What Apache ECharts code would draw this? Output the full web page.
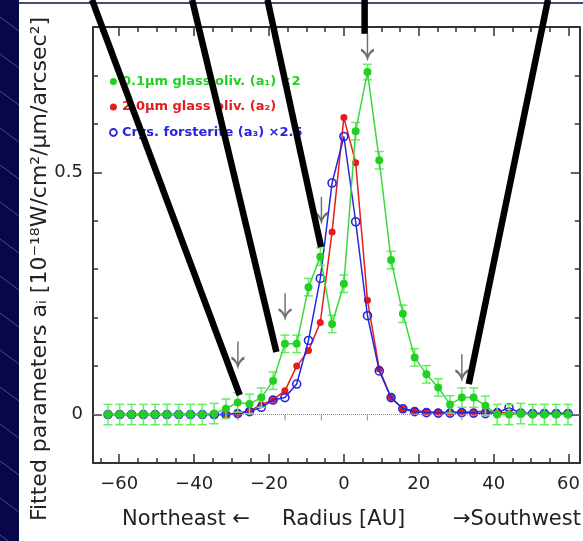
<!DOCTYPE html>
<html>
<head>
<meta charset="utf-8">
<script src="https://cdn.jsdelivr.net/npm/echarts@6/dist/echarts.min.js"></script>
<style>
  html, body { margin: 0; padding: 0; background: #ffffff; }
  #chart { width: 583px; height: 541px; }
</style>
</head>
<body>
<div id="chart"></div>
<script>
// Radial positions of the profile samples [AU] (negative = northeast)
const radius = [
  -63.00, -59.85, -56.70, -53.55, -50.40, -47.25, -44.10, -40.95, -37.80, -34.65,
  -31.50, -28.35, -25.20, -22.05, -18.90, -15.75, -12.60, -9.45, -6.30, -3.15,
  0.00, 3.15, 6.30, 9.45, 12.60, 15.75, 18.90, 22.05, 25.20, 28.35,
  31.50, 34.65, 37.80, 40.95, 44.10, 47.25, 50.40, 53.55, 56.70, 59.85
];

// 0.1 um glassy olivine, a1 (scaled x2)
const smallGlass = [
  0.000, 0.000, 0.000, 0.000, 0.000, 0.000, 0.000, 0.000, 0.000, 0.002,
  0.012, 0.025, 0.022, 0.035, 0.070, 0.146, 0.146, 0.263, 0.326, 0.187,
  0.270, 0.585, 0.707, 0.525, 0.319, 0.208, 0.118, 0.083, 0.056, 0.021,
  0.035, 0.035, 0.018, 0.000, 0.000, 0.002, 0.000, 0.000, 0.000, 0.000
];
const smallGlassErr = [
  0.021, 0.021, 0.021, 0.021, 0.021, 0.021, 0.021, 0.021, 0.021, 0.021,
  0.020, 0.020, 0.020, 0.020, 0.018, 0.018, 0.018, 0.018, 0.018, 0.018,
  0.018, 0.018, 0.016, 0.018, 0.018, 0.018, 0.018, 0.018, 0.018, 0.018,
  0.020, 0.020, 0.020, 0.021, 0.021, 0.021, 0.021, 0.021, 0.021, 0.021
];

// 2.0 um glassy olivine, a2
const largeGlass = [
  0.000, 0.000, 0.000, 0.000, 0.000, 0.000, 0.000, 0.000, 0.000, 0.000,
  0.000, 0.002, 0.008, 0.020, 0.031, 0.049, 0.100, 0.132, 0.190, 0.377,
  0.613, 0.520, 0.236, 0.094, 0.035, 0.012, 0.008, 0.006, 0.005, 0.005,
  0.006, 0.005, 0.008, 0.004, 0.003, 0.002, 0.002, 0.002, 0.002, 0.002
];

// Crystalline forsterite, a3 (scaled x2.5)
const forsterite = [
  0.000, 0.000, 0.000, 0.000, 0.000, 0.000, 0.000, 0.000, 0.000, 0.000,
  0.000, 0.002, 0.006, 0.015, 0.030, 0.035, 0.063, 0.153, 0.281, 0.478,
  0.574, 0.398, 0.204, 0.090, 0.035, 0.012, 0.006, 0.004, 0.003, 0.003,
  0.004, 0.003, 0.002, 0.004, 0.014, 0.003, 0.002, 0.002, 0.002, 0.002
];

const seriesNames = [
  '0.1\u03bcm glass oliv. (a\u2081) \u00d72',
  '2.0\u03bcm glass oliv. (a\u2082)',
  'Crys. forsterite (a\u2083) \u00d72.5'
];

// Axis ticks and labels
const xMajorTicks = [-60, -40, -20, 0, 20, 40, 60];
const xMinorTicks = [-65, -55, -50, -45, -35, -30, -25, -15, -10, -5, 5, 10, 15, 25, 30, 35, 45, 50, 55];
const yMajorTicks = [0, 0.5];
const yMinorTicks = [0.1, 0.2, 0.3, 0.4, 0.6, 0.7];

// Down-arrow markers: radius and arrow-tip height
const arrowRadius = [-28.3, -15.7, -6.0, 6.3, 31.5];
const arrowTip = [0.099, 0.199, 0.398, 0.735, 0.073];

// Pointer strokes of the slide: [x1, y1, x2, y2] in data units
const pointerStrokes = [
  [-67.26, 0.856, -27.82, 0.040],
  [-40.52, 0.856, -18.02, 0.129],
  [-20.40, 0.856, -6.10, 0.346],
  [5.54, 0.856, 5.54, 0.786],
  [54.50, 0.856, 33.35, 0.063]
];

const GREEN = '#22d022';
const RED = '#e41c1c';
const BLUE = '#2626dc';
const INK = '#222222';
const FONT = 'DejaVu Sans';

const pairs = arr => radius.map((r, i) => [r, arr[i]]);
const minusSign = v => String(v).replace('-', '\u2212');

function xAxisDef(position, ticks, len, withLabel, withLine) {
  return {
    type: 'value', min: -67, max: 63, position: position,
    axisLine: { show: withLine, onZero: false, lineStyle: { color: '#333', width: 2 } },
    axisTick: { show: true, inside: true, length: len, customValues: ticks,
                lineStyle: { color: '#333', width: 1.5 } },
    axisLabel: withLabel ? { show: true, customValues: ticks, formatter: minusSign,
                             fontFamily: FONT, fontSize: 18, color: INK, margin: 12 }
                         : { show: false },
    splitLine: { show: false }
  };
}
function yAxisDef(position, ticks, len, withLabel, withLine) {
  return {
    type: 'value', min: -0.1, max: 0.8, position: position,
    axisLine: { show: withLine, onZero: false, lineStyle: { color: '#333', width: 2 } },
    axisTick: { show: true, inside: true, length: len, customValues: ticks,
                lineStyle: { color: '#333', width: 1.5 } },
    axisLabel: withLabel ? { show: true, customValues: ticks, fontFamily: FONT,
                             fontSize: 18, color: INK, margin: 10 }
                         : { show: false },
    splitLine: { show: false }
  };
}

// Slide background: navy side strip with faint diagonal hatching
const graphics = [
  { type: 'rect', shape: { x: 0, y: 0, width: 19, height: 541 }, style: { fill: '#07074a' }, z: -10 },
  { type: 'line', shape: { x1: 19, y1: 3, x2: 583, y2: 3 }, style: { stroke: '#10104f', lineWidth: 1.5 }, z: -10 }
];
for (let y = -20; y < 560; y += 37) {
  graphics.push({ type: 'line', shape: { x1: 0, y1: y, x2: 19, y2: y + 14 },
                  style: { stroke: '#4c4c8c', lineWidth: 1 }, z: -9 });
}
graphics.push(
  { type: 'text', x: 40, y: 269, rotation: Math.PI / 2,
    style: { text: 'Fitted parameters a\u1d62 [10\u207b\u00b9\u2078W/cm\u00b2/\u03bcm/arcsec\u00b2]',
             font: '22px "DejaVu Sans"', fill: INK, align: 'center', verticalAlign: 'middle' } },
  { type: 'text', x: 122, y: 520,
    style: { text: 'Northeast \u2190', font: '21px "DejaVu Sans"', fill: INK, align: 'left', verticalAlign: 'middle' } },
  { type: 'text', x: 282, y: 520,
    style: { text: 'Radius [AU]', font: '21px "DejaVu Sans"', fill: INK, align: 'left', verticalAlign: 'middle' } },
  { type: 'text', x: 453, y: 520,
    style: { text: '\u2192Southwest', font: '21px "DejaVu Sans"', fill: INK, align: 'left', verticalAlign: 'middle' } }
);

const chart = echarts.init(document.getElementById('chart'), null, { renderer: 'canvas' });
chart.setOption({
  animation: false,
  backgroundColor: '#ffffff',
  grid: { left: 93, top: 27, width: 491, height: 436, containLabel: false },
  xAxis: [
    xAxisDef('bottom', xMinorTicks, 5, false, true),
    xAxisDef('bottom', xMajorTicks, 9, true, false),
    xAxisDef('top', xMinorTicks, 5, false, true),
    xAxisDef('top', xMajorTicks, 9, false, false)
  ],
  yAxis: [
    yAxisDef('left', yMinorTicks, 5, false, true),
    yAxisDef('left', yMajorTicks, 9, true, false),
    yAxisDef('right', yMinorTicks, 5, false, true),
    yAxisDef('right', yMajorTicks, 9, false, false)
  ],
  legend: {
    left: 109, top: 75, orient: 'vertical', padding: 0,
    itemWidth: 7, itemHeight: 7, itemGap: 12.5, icon: 'circle', selectedMode: false,
    textStyle: { fontFamily: FONT, fontWeight: 'bold', fontSize: 13 },
    data: [
      { name: seriesNames[0], itemStyle: { color: GREEN }, textStyle: { color: GREEN } },
      { name: seriesNames[1], itemStyle: { color: RED }, textStyle: { color: RED } },
      { name: seriesNames[2], icon: 'circle',
        itemStyle: { color: 'rgba(0,0,0,0)', borderColor: BLUE, borderWidth: 1.8 },
        textStyle: { color: BLUE } }
    ]
  },
  graphic: graphics,
  series: [
    {
      name: seriesNames[1], type: 'line', data: pairs(largeGlass),
      symbol: 'circle', symbolSize: 7,
      itemStyle: { color: RED }, lineStyle: { color: RED, width: 1.5 },
      markLine: {
        silent: true, symbol: 'none', label: { show: false },
        lineStyle: { color: '#8a8a8a', type: 'dotted', width: 1 },
        data: [{ yAxis: 0 }]
      },
      z: 2
    },
    {
      name: seriesNames[2], type: 'line', data: pairs(forsterite),
      symbol: 'circle', symbolSize: 8,
      itemStyle: { color: 'rgba(0,0,0,0)', borderColor: BLUE, borderWidth: 1.6 },
      lineStyle: { color: BLUE, width: 1.5 },
      z: 3
    },
    {
      name: 'errors-a1', type: 'custom', z: 4,
      data: radius.map((r, i) => [r, smallGlass[i] - smallGlassErr[i], smallGlass[i] + smallGlassErr[i]]),
      renderItem: function (params, api) {
        const x = api.value(0);
        const lo = api.coord([x, api.value(1)]);
        const hi = api.coord([x, api.value(2)]);
        const w = 4.5;
        const st = { stroke: '#66ec66', lineWidth: 1.5 };
        return {
          type: 'group',
          children: [
            { type: 'line', shape: { x1: lo[0], y1: lo[1], x2: hi[0], y2: hi[1] }, style: st },
            { type: 'line', shape: { x1: lo[0] - w, y1: lo[1], x2: lo[0] + w, y2: lo[1] }, style: st },
            { type: 'line', shape: { x1: hi[0] - w, y1: hi[1], x2: hi[0] + w, y2: hi[1] }, style: st }
          ]
        };
      }
    },
    {
      name: seriesNames[0], type: 'line', data: pairs(smallGlass),
      symbol: 'circle', symbolSize: 8,
      itemStyle: { color: GREEN }, lineStyle: { color: '#3ad83a', width: 1.5 },
      z: 5
    },
    {
      name: 'arrow-base', type: 'scatter', z: 6,
      data: arrowRadius.map(r => [r, 0]),
      symbol: 'rect', symbolSize: [1.2, 6], symbolOffset: [0, 3],
      itemStyle: { color: '#888888' }
    },
    {
      name: 'arrows', type: 'scatter', z: 7,
      data: arrowRadius.map((r, i) => [r, arrowTip[i]]),
      symbol: 'path://M7,0 L7,26 M0,17 Q5,19 7,26 Q9,19 14,17',
      symbolSize: [13, 25], symbolOffset: [0, -12.5],
      itemStyle: { color: 'rgba(0,0,0,0)', borderColor: '#4a4a4a', borderWidth: 2 }
    },
    {
      name: 'pointers', type: 'custom', z: 20, clip: false,
      data: pointerStrokes,
      renderItem: function (params, api) {
        const a = api.coord([api.value(0), api.value(1)]);
        const b = api.coord([api.value(2), api.value(3)]);
        return { type: 'line', shape: { x1: a[0], y1: a[1], x2: b[0], y2: b[1] },
                 style: { stroke: '#000000', lineWidth: 6.5, lineCap: 'butt' } };
      }
    }
  ]
});
</script>
</body>
</html>
